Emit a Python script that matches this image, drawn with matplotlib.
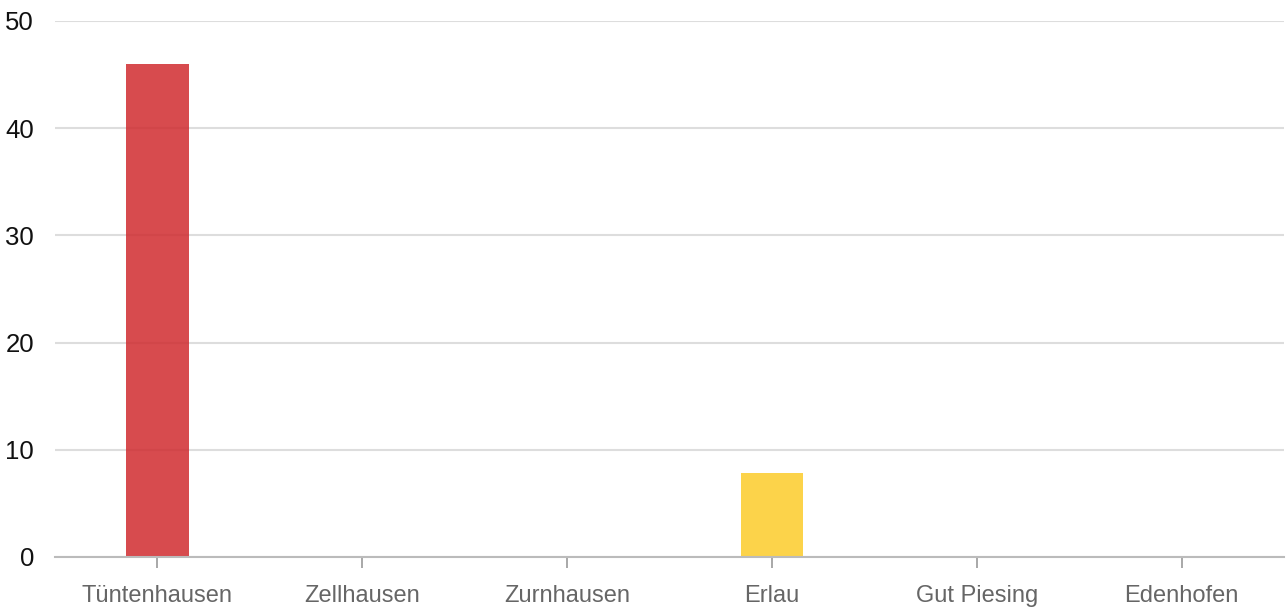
import matplotlib
matplotlib.use("Agg")
from matplotlib import pyplot as plt

# Werte pro Ortsteil
orte = ["Tüntenhausen", "Zellhausen", "Zurnhausen", "Erlau", "Gut Piesing", "Edenhofen"]
werte = [46, 0, 0, 7.8, 0, 0]
farben = ["#d02b2f", "#d02b2f", "#d02b2f", "#fccc2a", "#fccc2a", "#fccc2a"]
y_ticks = [0, 10, 20, 30, 40, 50]

plt.rcParams['font.family'] = ['Liberation Sans Narrow', 'Liberation Sans', 'DejaVu Sans']

fig = plt.figure(figsize=(12.87, 6.09), dpi=100)
ax = fig.add_axes([55 / 1287, 52 / 609, 1229 / 1287, 536 / 609])

x = list(range(len(orte)))
ax.bar(x, werte, width=0.305, color=farben, alpha=0.85, zorder=3)

ax.set_xlim(-0.5, len(orte) - 0.5)
ax.set_ylim(0, 50)
ax.set_yticks(y_ticks)
ax.set_xticks(x)
ax.set_xticklabels(orte, fontsize=17, color="#666666")
ax.tick_params(axis="x", length=8, width=1.2, color="#999999", pad=12)
ax.tick_params(axis="y", length=0, pad=15, labelsize=18.5, labelcolor="#111111")

ax.grid(axis="y", color="#dddddd", linewidth=1.5, zorder=0)
for s in ["top", "right", "left"]:
    ax.spines[s].set_visible(False)
ax.spines["bottom"].set_color("#bbbbbb")
ax.spines["bottom"].set_linewidth(1.5)
ax.spines["bottom"].set_zorder(4)

fig.savefig("out.png", dpi=100)
